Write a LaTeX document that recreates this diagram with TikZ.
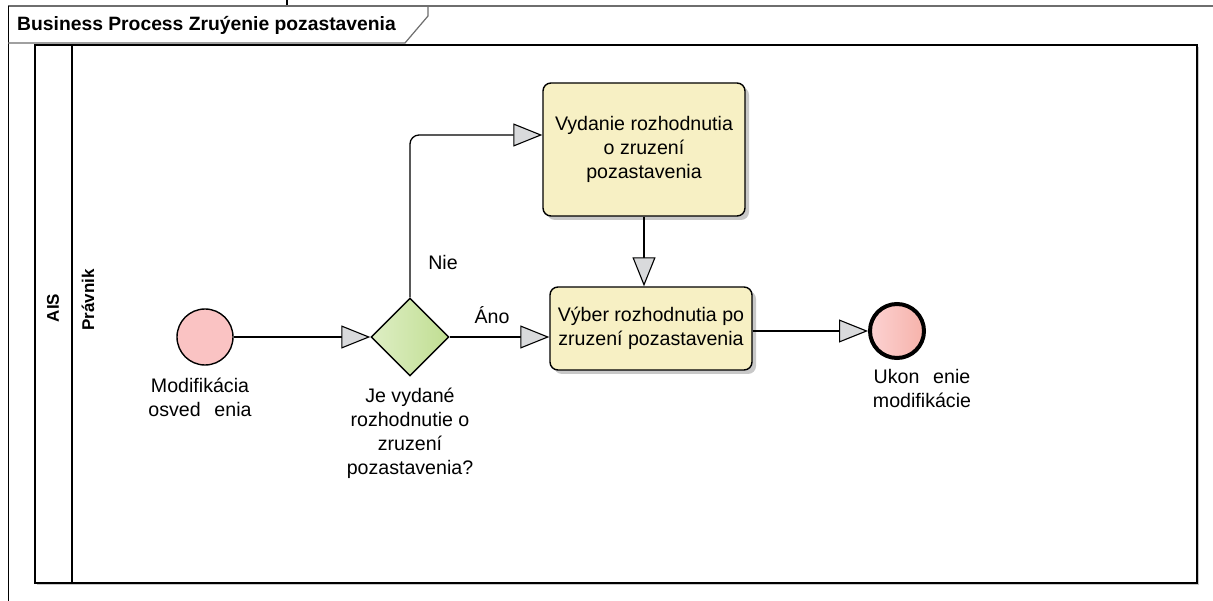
\documentclass[tikz,border=0pt]{standalone}
\usepackage{fontspec}
\setmainfont{Liberation Sans}
\usetikzlibrary{arrows.meta,shapes.geometric,shadows,calc}

\definecolor{frameline}{RGB}{110,110,110}
\definecolor{taskfill}{RGB}{247,240,196}
\definecolor{startfill}{RGB}{250,195,195}
\definecolor{endleft}{RGB}{252,210,210}
\definecolor{endright}{RGB}{246,178,170}
\definecolor{gwleft}{RGB}{222,238,196}
\definecolor{gwright}{RGB}{192,222,146}
\definecolor{tipfill}{RGB}{217,218,220}
\definecolor{shadowgray}{RGB}{200,200,200}

\tikzset{
  lbl/.style={font=\fontsize{19.6}{24}\selectfont, align=center, inner sep=0pt},
  lanelbl/.style={font=\bfseries\fontsize{17}{20}\selectfont, rotate=90, inner sep=0pt},
  flow/.style={line width=1.3pt, draw=black,
    -{Triangle[length=29pt,width=23pt,fill=tipfill,line width=1.1pt]}},
  taskbox/.style={draw=black, line width=1.4pt, fill=taskfill, rounded corners=8pt,
    minimum width=202pt, inner sep=0pt, align=center,
    font=\fontsize{19.6}{24}\selectfont,
    drop shadow={shadow xshift=4pt, shadow yshift=-4pt, fill=shadowgray, opacity=1}},
  startev/.style={circle, draw=black, line width=1.4pt, fill=startfill,
    minimum size=56pt, inner sep=0pt},
  endev/.style={circle, draw=black, line width=4pt, left color=endleft, right color=endright,
    minimum size=54pt, inner sep=0pt},
  gateway/.style={diamond, aspect=1, draw=black, line width=1.4pt,
    left color=gwleft, right color=gwright, minimum size=78pt, inner sep=0pt},
}

\begin{document}
\begin{tikzpicture}[x=1pt,y=-1pt]
\useasboundingbox (0,0) rectangle (1213,601);
\fill[white] (0,0) rectangle (1213,601);

% diagram frame and its name tab
\draw[frameline, line width=1.2pt] (8,6) -- (1213,6);
\draw[black, line width=1pt] (8,6) -- (8,601);
\draw[frameline, line width=1.2pt] (8,43) -- (405,43) -- (428,16) -- (428,6);
\node[anchor=west, font=\bfseries\fontsize{19.3}{22}\selectfont, inner sep=0pt] (title)
  at (17,25) {Business Process Zruýenie pozastavenia};
\draw[black, line width=1.6pt] (287,0) -- (287,5);

% pool and lane
\fill[shadowgray] (37,47) rectangle (1199,585);
\draw[black, line width=1.6pt, fill=white] (35,45) rectangle (1197,583);
\draw[black, line width=1.6pt] (72,45) -- (72,583);
\node[lanelbl] (pool) at (53,308) {AIS};
\node[lanelbl] (lane) at (88,300) {Právnik};

% flow elements
\node[startev] (start) at (205,337) {};
\node[gateway] (gw) at (410,337) {};
\node[taskbox, minimum height=133pt] (t1) at (644,149.5)
  {Vydanie rozhodnutia\\o zruzení\\pozastavenia};
\node[taskbox, minimum height=83pt] (t2) at (651,328.5)
  {Výber rozhodnutia po\\zruzení pozastavenia};
\node[endev] (end) at (897,331) {};

% element labels
\node[lbl] (startlbl) at (200,397) {Modifikácia\\osved\hspace{0.7em}enia};
\node[lbl] (gwlbl) at (410,433) {Je vydané\\rozhodnutie o\\zruzení\\pozastavenia?};
\node[lbl] (endlbl) at (922,388) {Ukon\hspace{0.7em}enie\\modifikácie};

% sequence flows
\coordinate (nieIn) at ([yshift=14.5pt]t1.west);
\draw[flow] (start) -- (gw.west);
\draw[flow, rounded corners=9pt] (gw.north) |- (nieIn);
\draw[flow] (gw.east) -- (gw.east -| t2.west);
\draw[flow] (t1.south) -- (t1.south |- t2.north);
\draw[flow] (end.west -| t2.east) -- (end.west);

% flow labels
\node[lbl] (nie) at (443,262) {Nie};
\node[lbl] (ano) at (492,315) {Áno};
\end{tikzpicture}
\end{document}
